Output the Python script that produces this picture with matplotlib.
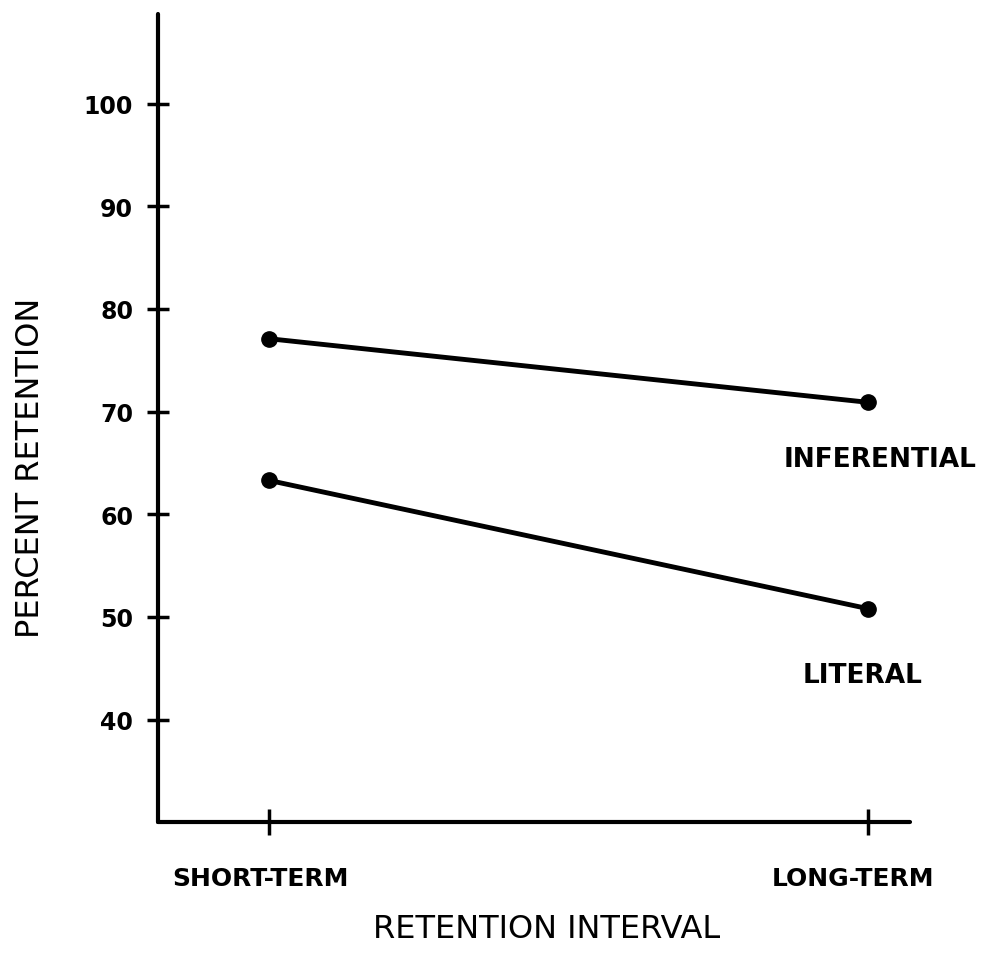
"""
Percent retention of literal and inferential items over the retention interval.
"""

import matplotlib.pyplot as plt
from matplotlib.transforms import ScaledTranslation

intervals = ['SHORT-TERM', 'LONG-TERM']
inferential = [77.1, 70.9]
literal = [63.3, 50.8]
y_ticks = [40, 50, 60, 70, 80, 90, 100]


def plot_retention():
    fig = plt.figure(figsize=(9.82, 9.54), dpi=100)
    ax = fig.add_axes([0.161, 0.137, 0.766, 0.847])

    x = list(range(1, len(intervals) + 1))
    for series in (inferential, literal):
        ax.plot(x, series, color='black', lw=3.5, marker='o', ms=11,
                solid_capstyle='round', zorder=3)

    ax.set_xlim(0.815, 2.07)
    ax.set_ylim(30, 108.7)

    for side in ('top', 'right'):
        ax.spines[side].set_visible(False)
    for side in ('left', 'bottom'):
        ax.spines[side].set_linewidth(3)
        ax.spines[side].set_capstyle('round')

    ax.set_xticks(x)
    ax.set_xticklabels(intervals, fontsize=18, fontweight='bold')
    ax.set_yticks(y_ticks)
    ax.set_yticklabels([str(v) for v in y_ticks], fontsize=17, fontweight='bold')
    ax.tick_params(axis='x', direction='inout', length=19, width=2.5, pad=22)
    ax.tick_params(axis='y', direction='inout', length=16, width=2.5, pad=10)

    # the interval labels sit a little left of their ticks in the original
    for label, dx in zip(ax.get_xticklabels(), (-0.09, -0.15)):
        label.set_transform(label.get_transform()
                            + ScaledTranslation(dx, 0, fig.dpi_scale_trans))

    ax.text(2.02, 65.4, 'INFERENTIAL', ha='center', va='center',
            fontsize=19, fontweight='bold')
    ax.text(1.99, 44.3, 'LITERAL', ha='center', va='center',
            fontsize=19, fontweight='bold')

    ax.set_xlabel('RETENTION INTERVAL', fontsize=23, va='center')
    ax.xaxis.set_label_coords(0.517, -0.132)
    ax.set_ylabel('PERCENT RETENTION', fontsize=23, va='center')
    ax.yaxis.set_label_coords(-0.17, 0.44)

    fig.savefig('out.png', dpi=100, facecolor='white')


if __name__ == '__main__':
    plot_retention()
